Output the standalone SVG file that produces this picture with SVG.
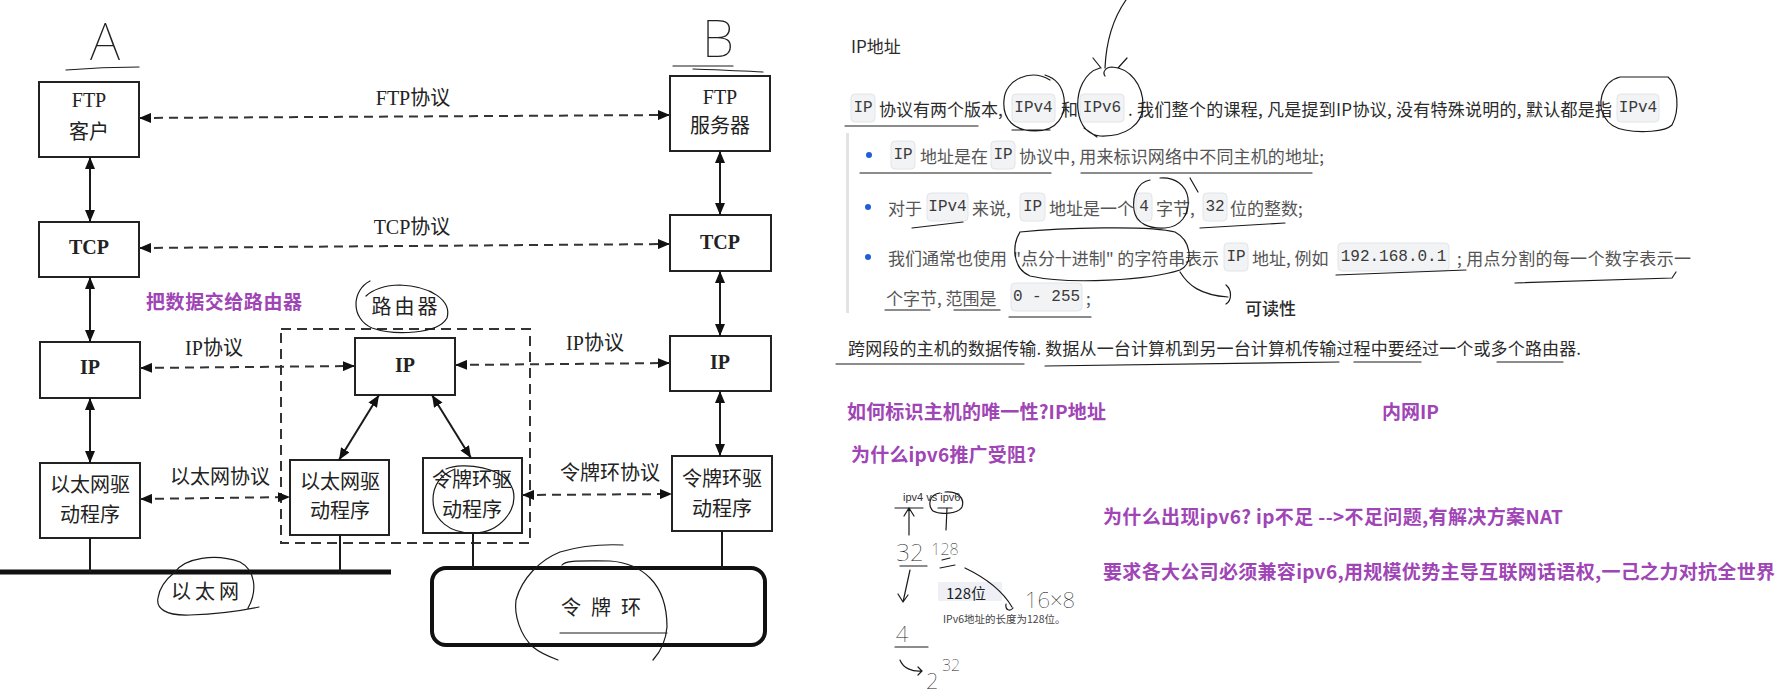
<svg xmlns="http://www.w3.org/2000/svg" width="1779" height="693" viewBox="0 0 1779 693">
<defs>
<style>
text{dominant-baseline:central}
.box{fill:#fff;stroke:#222;stroke-width:2}
.ln{stroke:#1a1a1a;stroke-width:2;fill:none}
.dl{stroke:#333;stroke-width:2;fill:none;stroke-dasharray:9 6}
.s{font-family:"Liberation Serif","Noto Sans CJK SC",serif;font-size:20px;fill:#222;text-anchor:middle}
.sb{font-weight:bold}
.m{font-family:"Noto Sans CJK SC","Noto Sans",sans-serif;font-size:17px;fill:#2b2b2b}
.g{fill:#555}
.c{font-family:"Liberation Mono",monospace;font-size:16px;fill:#3a3a3a;text-anchor:middle}
.cb{fill:#f2f3f5;stroke:#e2e4e8;stroke-width:1}
.p{font-family:"Noto Sans CJK SC",sans-serif;font-weight:bold;font-size:19px;fill:#a045b5}
.h{fill:none;stroke:#1a1a1a;stroke-width:1.2;stroke-linecap:round}
.hw{font-family:"Noto Sans","DejaVu Sans",sans-serif;font-weight:100;fill:#222;dominant-baseline:auto}
.dot{fill:#1f5fd6}
</style>
<marker id="ah" viewBox="0 0 12 10" refX="12" refY="5" markerWidth="12" markerHeight="10" markerUnits="userSpaceOnUse" orient="auto-start-reverse"><path d="M0,0 L12,5 L0,10 z" fill="#111"/></marker>
</defs>
<rect width="1779" height="693" fill="#fff"/>

<!-- left diagram nodes -->
<g id="label-a"><text class="hw" x="105" y="60" font-size="52" text-anchor="middle">A</text><path class="h" d="M66,70 C90,68 115,67 139,67"/></g>
<g id="label-b"><text class="hw" x="718" y="57" font-size="52" text-anchor="middle">B</text><path class="h" d="M673,66 L733,66 M693,69 C720,70 745,71 763,72"/></g>

<g id="ftp-client"><rect class="box" x="39" y="82" width="100" height="75"/><text class="s" x="89" y="100">FTP</text><text class="s" x="89" y="132">客户</text></g>
<g id="tcp-a"><rect class="box" x="39" y="222" width="100" height="55"/><text class="s sb" x="89" y="247">TCP</text></g>
<g id="ip-a"><rect class="box" x="40" y="342" width="100" height="56"/><text class="s sb" x="90" y="367">IP</text></g>
<g id="eth-a"><rect class="box" x="40" y="463" width="100" height="75"/><text class="s" x="90" y="485">以太网驱</text><text class="s" x="90" y="515">动程序</text></g>

<g id="ftp-server"><rect class="box" x="670" y="76" width="100" height="75"/><text class="s" x="720" y="97">FTP</text><text class="s" x="720" y="126">服务器</text></g>
<g id="tcp-b"><rect class="box" x="670" y="215" width="101" height="56"/><text class="s sb" x="720" y="242">TCP</text></g>
<g id="ip-b"><rect class="box" x="670" y="336" width="101" height="55"/><text class="s sb" x="720" y="362">IP</text></g>
<g id="tr-b"><rect class="box" x="672" y="456" width="100" height="75"/><text class="s" x="722" y="479">令牌环驱</text><text class="s" x="722" y="509">动程序</text></g>

<g id="router"><rect x="281" y="329" width="249" height="214" fill="none" stroke="#333" stroke-width="2" stroke-dasharray="10 6"/>
<text class="s" x="406" y="307" letter-spacing="3">路由器</text>
<path class="h" d="M370,281 C352,290 350,318 372,328 C395,336 438,334 447,318 C452,300 430,286 400,285 C385,285 372,290 366,296"/></g>
<g id="router-ip"><rect class="box" x="355" y="338" width="100" height="57"/><text class="s sb" x="405" y="365">IP</text></g>
<g id="router-eth"><rect class="box" x="290" y="460" width="99" height="75"/><text class="s" x="340" y="482">以太网驱</text><text class="s" x="340" y="511">动程序</text></g>
<g id="router-tr"><rect class="box" x="423" y="458" width="99" height="75"/><text class="s" x="472" y="480">令牌环驱</text><text class="s" x="472" y="510">动程序</text>
<path class="h" d="M446,469 C462,462 505,466 513,490 C518,510 500,532 475,533 C450,534 433,520 433,500 C433,485 440,475 455,469"/></g>

<g id="ethernet"><line x1="0" y1="572" x2="391" y2="572" stroke="#111" stroke-width="5"/>
<text class="s" x="207" y="592" letter-spacing="4">以太网</text>
<path class="h" d="M175,572 C185,558 215,553 240,562 C255,570 258,590 248,608 M158,598 C156,608 165,616 190,615 C220,614 245,610 259,607 M175,572 C165,580 159,590 158,598"/></g>
<g id="token-ring"><rect x="432" y="568" width="333" height="77" rx="14" fill="#fff" stroke="#111" stroke-width="4"/>
<text class="s" x="606" y="608" letter-spacing="10">令牌环</text>
<path class="h" d="M560,633 L667,633"/>
<path class="h" d="M623,545 C600,544 580,546 560,552 C540,560 522,578 516,600 C514,615 520,635 533,647 C540,653 550,657 558,660 M562,565 C566,560 580,561 610,561 C625,562 640,568 650,578 C662,590 667,605 667,627 C666,640 662,650 653,660"/></g>

<!-- connectors -->
<g id="connectors">
<line class="ln" x1="90" y1="157" x2="90" y2="222" marker-start="url(#ah)" marker-end="url(#ah)"/>
<line class="ln" x1="90" y1="277" x2="90" y2="342" marker-start="url(#ah)" marker-end="url(#ah)"/>
<line class="ln" x1="90" y1="398" x2="90" y2="463" marker-start="url(#ah)" marker-end="url(#ah)"/>
<line class="ln" x1="720" y1="151" x2="720" y2="215" marker-start="url(#ah)" marker-end="url(#ah)"/>
<line class="ln" x1="720" y1="271" x2="720" y2="336" marker-start="url(#ah)" marker-end="url(#ah)"/>
<line class="ln" x1="720" y1="391" x2="720" y2="456" marker-start="url(#ah)" marker-end="url(#ah)"/>
<line class="ln" x1="379" y1="395" x2="339" y2="460" marker-start="url(#ah)" marker-end="url(#ah)"/>
<line class="ln" x1="432" y1="395" x2="471" y2="458" marker-start="url(#ah)" marker-end="url(#ah)"/>
<line class="dl" x1="139" y1="118" x2="670" y2="115" marker-start="url(#ah)" marker-end="url(#ah)"/>
<line class="dl" x1="139" y1="248" x2="670" y2="244" marker-start="url(#ah)" marker-end="url(#ah)"/>
<line class="dl" x1="140" y1="368" x2="355" y2="366" marker-start="url(#ah)" marker-end="url(#ah)"/>
<line class="dl" x1="455" y1="365" x2="670" y2="363" marker-start="url(#ah)" marker-end="url(#ah)"/>
<line class="dl" x1="140" y1="499" x2="290" y2="497" marker-start="url(#ah)" marker-end="url(#ah)"/>
<line class="dl" x1="522" y1="495" x2="672" y2="494" marker-start="url(#ah)" marker-end="url(#ah)"/>
<line class="ln" x1="90" y1="538" x2="90" y2="572"/>
<line class="ln" x1="340" y1="535" x2="340" y2="572"/>
<line class="ln" x1="473" y1="533" x2="473" y2="568"/>
<line class="ln" x1="722" y1="531" x2="722" y2="568"/>
</g>
<g id="connector-labels">
<text class="s" x="413" y="98">FTP协议</text>
<text class="s" x="412" y="227">TCP协议</text>
<text class="s" x="214" y="348">IP协议</text>
<text class="s" x="595" y="343">IP协议</text>
<text class="s" x="220" y="477">以太网协议</text>
<text class="s" x="610" y="473">令牌环协议</text>
</g>
<text class="p" x="146" y="300" textLength="156">把数据交给路由器</text>

<!-- right notes -->
<g id="notes">
<text class="m" x="851" y="45" fill="#333">IP地址</text>

<rect class="cb" x="851" y="94" width="24" height="28" rx="4"/><text class="c" x="863" y="108">IP</text>
<text class="m" x="879" y="108">协议有两个版本,</text>
<rect class="cb" x="1012" y="94" width="43" height="28" rx="4"/><text class="c" x="1033.5" y="108">IPv4</text>
<text class="m" x="1061" y="108">和</text>
<rect class="cb" x="1080" y="94" width="44" height="28" rx="4"/><text class="c" x="1102" y="108">IPv6</text>
<text class="m" x="1128" y="108" textLength="484">. 我们整个的课程, 凡是提到IP协议, 没有特殊说明的, 默认都是指</text>
<rect class="cb" x="1617" y="94" width="42" height="28" rx="4"/><text class="c" x="1638" y="108">IPv4</text>

<rect x="846" y="133" width="3" height="180" fill="#e3e3e3"/>
<circle class="dot" cx="869" cy="155" r="3"/>
<rect class="cb" x="891" y="141" width="24" height="28" rx="4"/><text class="c" x="903" y="155">IP</text>
<text class="m g" x="920" y="155">地址是在</text>
<rect class="cb" x="991" y="141" width="24" height="28" rx="4"/><text class="c" x="1003" y="155">IP</text>
<text class="m g" x="1019" y="155" textLength="305">协议中, 用来标识网络中不同主机的地址;</text>

<circle class="dot" cx="868" cy="207" r="3"/>
<text class="m g" x="888" y="207">对于</text>
<rect class="cb" x="927" y="193" width="41" height="28" rx="4"/><text class="c" x="947.5" y="207">IPv4</text>
<text class="m g" x="972" y="207">来说,</text>
<rect class="cb" x="1020" y="193" width="25" height="28" rx="4"/><text class="c" x="1032.5" y="207">IP</text>
<text class="m g" x="1049" y="207">地址是一个</text>
<rect class="cb" x="1136" y="193" width="16" height="28" rx="4"/><text class="c" x="1144" y="207">4</text>
<text class="m g" x="1156" y="207">字节,</text>
<rect class="cb" x="1203" y="193" width="24" height="28" rx="4"/><text class="c" x="1215" y="207">32</text>
<text class="m g" x="1230" y="207">位的整数;</text>

<circle class="dot" cx="868" cy="257" r="3"/>
<text class="m g" x="888" y="257">我们通常也使用</text>
<text class="m g" x="1013" y="257" textLength="206">"点分十进制" 的字符串表示</text>
<rect class="cb" x="1224" y="243" width="24" height="28" rx="4"/><text class="c" x="1236" y="257">IP</text>
<text class="m g" x="1252" y="257">地址, 例如</text>
<rect class="cb" x="1338" y="243" width="111" height="28" rx="4"/><text class="c" x="1393.5" y="257">192.168.0.1</text>
<text class="m g" x="1457" y="257" textLength="234">; 用点分割的每一个数字表示一</text>
<text class="m g" x="886" y="297">个字节, 范围是</text>
<rect class="cb" x="1011" y="283" width="71" height="28" rx="4"/><text class="c" x="1046.5" y="297">0 - 255</text>
<text class="m g" x="1086" y="297">;</text>

<text class="m" x="1245" y="307" font-weight="500" fill="#111">可读性</text>
<text class="m" x="848" y="347" textLength="733" fill="#1e1e1e">跨网段的主机的数据传输. 数据从一台计算机到另一台计算机传输过程中要经过一个或多个路由器.</text>

<text class="p" x="847" y="410" textLength="259">如何标识主机的唯一性?IP地址</text>
<text class="p" x="1382" y="410" textLength="57">内网IP</text>
<text class="p" x="851" y="453" textLength="185">为什么ipv6推广受阻?</text>
<text class="p" x="1103" y="515" textLength="460">为什么出现ipv6? ip不足 --&gt;不足问题,有解决方案NAT</text>
<text class="p" x="1103" y="570" textLength="672">要求各大公司必须兼容ipv6,用规模优势主导互联网话语权,一己之力对抗全世界</text>
</g>

<!-- small ipv4 vs ipv6 picture -->
<g id="ipv-sketch">
<text x="903" y="497" font-family="Liberation Sans,sans-serif" font-size="11" fill="#333">ipv4 vs ipv6</text>
<rect x="938" y="582" width="64" height="19" fill="#eef0f6"/>
<text x="946" y="592" font-family="Noto Sans CJK SC,sans-serif" font-size="15" fill="#222">128位</text>
<text x="943" y="618" font-family="Noto Sans CJK SC,sans-serif" font-size="10.5" fill="#444">IPv6地址的长度为128位。</text>
<path class="h" d="M940,493 C930,494 927,505 933,511 C940,515 958,514 962,507 C965,498 958,491 945,492"/>
<path class="h" d="M895,508 L923,508 M909,535 L909,509 M904,516 L909,508 L914,516 M938,508 L952,508 M947,508 L946,530"/>
<path class="h" d="M900,566 L927,566 M910,570 L903,602 M898,594 L903,602 L908,595 M942,560 L950,558 M940,568 L955,565 M965,568 C990,580 1005,595 1012,607 M1006,604 C1005,610 1010,612 1013,608 M895,647 L928,647 M900,660 C903,668 912,672 922,671 M918,667 L922,671 L918,675"/>
<text class="hw" x="910" y="561" font-size="24" text-anchor="middle">32</text>
<text class="hw" x="945" y="555" font-size="16" text-anchor="middle">128</text>
<text class="hw" x="1025" y="608" font-size="22">16×8</text>
<text class="hw" x="902" y="642" font-size="22" text-anchor="middle">4</text>
<text class="hw" x="926" y="689" font-size="22">2</text>
<text class="hw" x="942" y="671" font-size="16">32</text>
</g>

<!-- hand annotations on notes -->
<g id="annotations">
<path class="h" d="M1050,80 C1030,68 1005,80 1004,100 C1002,120 1015,131 1035,131 C1058,131 1066,115 1064,98 C1062,85 1055,78 1045,75 M1012,130 L1050,130"/>
<path class="h" d="M1100,68 C1085,72 1076,90 1078,110 C1080,128 1090,135 1100,136 C1125,137 1143,125 1143,105 C1143,85 1130,68 1112,67 C1106,67 1102,72 1105,76 M1105,68 C1106,45 1112,20 1126,0 M1093,58 L1101,68 M1127,58 L1118,68 M1084,128 L1097,137"/>
<path class="h" d="M1620,77 L1668,77 C1678,85 1680,110 1672,125 C1665,132 1640,133 1625,130 C1605,127 1598,110 1602,95 C1605,85 1612,79 1620,77"/>
<path class="h" d="M845,126 L978,126 M860,173 L1051,173 M1081,173 L1312,173 M912,228 L963,222 M1200,228 L1285,223 M1336,275 L1466,270 M1515,283 L1672,278 L1676,272 M885,310 L930,310 M954,310 L1000,310 M1009,317 L1091,317 M836,364 L1024,364 M1045,366 L1339,362 M1354,362 L1421,362 M1497,362 L1563,362"/>
<path class="h" d="M1150,180 C1138,182 1132,195 1134,210 C1136,224 1150,229 1165,228 C1180,227 1190,215 1188,198 C1186,185 1175,177 1160,178 M1190,178 L1198,192"/>
<path class="h" d="M1020,232 C1012,245 1012,268 1030,276 C1070,285 1150,280 1180,270 C1195,262 1190,240 1175,232 C1150,225 1060,228 1020,232 M1180,272 C1188,285 1200,295 1228,297 M1226,285 C1232,290 1232,300 1226,304"/>
</g>
</svg>
